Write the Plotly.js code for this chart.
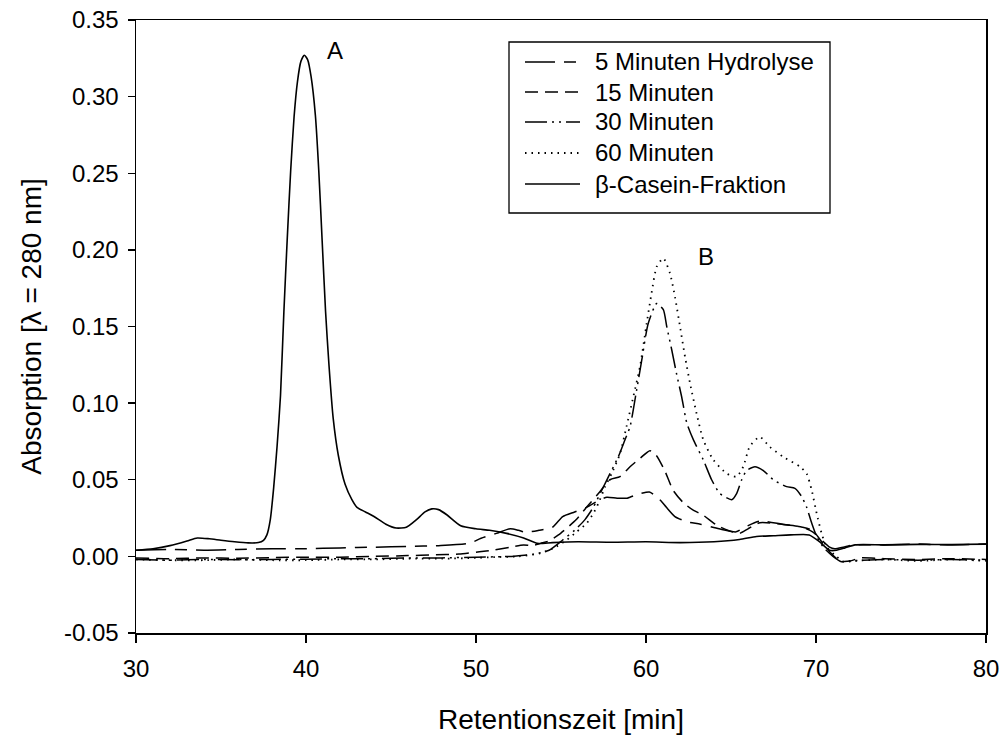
<!DOCTYPE html>
<html>
<head>
<meta charset="utf-8">
<script src="https://cdn.plot.ly/plotly-3.0.1.min.js"></script>
<style>
  html, body { margin: 0; padding: 0; background: #ffffff; }
  #chart { width: 1002px; height: 735px; }
</style>
</head>
<body>
<div id="chart"></div>
<script>
// ---- Data ----
const seriesNames = ["5 Minuten Hydrolyse", "15 Minuten", "30 Minuten", "60 Minuten", "\u03b2-Casein-Fraktion"];

const x_5min = [30, 32, 34, 36, 38, 40, 42, 44, 46, 47.8, 49.6, 50.3, 51.2, 52.0, 52.5, 52.9, 53.7, 54.5, 55.1, 55.8, 56.5, 57.3, 57.7, 58.3, 58.9, 59.5, 60.2, 60.5, 60.9, 61.2, 61.7, 62.4, 63.2, 64.3, 65.3, 65.8, 66.7, 68.0, 69.2, 69.8, 70.3, 70.8, 71.1, 71.6, 72.2, 74, 76, 78, 80];
const y_5min = [0.004, 0.0045, 0.004, 0.0045, 0.005, 0.005, 0.0055, 0.006, 0.0065, 0.007, 0.0085, 0.0118, 0.015, 0.018, 0.017, 0.0157, 0.017, 0.019, 0.026, 0.029, 0.032, 0.037, 0.0386, 0.038, 0.038, 0.0405, 0.042, 0.040, 0.036, 0.032, 0.026, 0.0226, 0.021, 0.018, 0.016, 0.019, 0.023, 0.021, 0.019, 0.016, 0.011, 0.006, 0.005, 0.006, 0.0075, 0.0075, 0.008, 0.0075, 0.008];

const x_15min = [30, 32, 34, 36, 38, 40, 42, 44, 46, 47.5, 49, 50.2, 51.0, 52.0, 52.8, 53.3, 53.8, 54.3, 54.85, 55.4, 55.9, 56.5, 57.2, 57.88, 58.47, 59.06, 59.65, 60.23, 60.6, 61.1, 61.6, 62.2, 62.8, 63.35, 64.14, 64.8, 65.5, 66.0, 66.7, 68.0, 69.2, 69.8, 70.3, 70.8, 71.4, 72.0, 72.6, 74, 76, 78, 80];
const y_15min = [-0.001, -0.0015, -0.001, -0.0012, -0.0008, -0.0005, -0.0005, 0.0, 0.0005, 0.001, 0.0015, 0.003, 0.004, 0.006, 0.0075, 0.007, 0.0085, 0.010, 0.014, 0.019, 0.024, 0.032, 0.041, 0.050, 0.052, 0.0585, 0.064, 0.069, 0.066, 0.056, 0.043, 0.035, 0.030, 0.027, 0.0205, 0.017, 0.015, 0.018, 0.022, 0.021, 0.019, 0.017, 0.010, 0.003, -0.003, -0.003, -0.001, -0.0015, -0.002, -0.0015, -0.002];

const x_30min = [30, 32, 34, 36, 38, 40, 42, 44, 46, 48, 50, 52.1, 53.4, 54.3, 55.1, 55.8, 56.41, 56.9, 57.39, 57.88, 58.37, 58.76, 59.06, 59.45, 59.75, 60.13, 60.63, 61.02, 61.22, 61.51, 61.8, 62.1, 62.4, 62.79, 63.37, 63.86, 64.35, 65.04, 65.33, 65.63, 65.92, 66.41, 66.9, 67.49, 68.27, 68.76, 69.16, 69.45, 69.75, 70.04, 70.43, 71.0, 71.5, 72, 74, 76, 78, 80];
const y_30min = [-0.002, -0.0025, -0.002, -0.0022, -0.002, -0.0018, -0.0015, -0.0015, -0.001, -0.001, -0.0005, 0.0, 0.0014, 0.004, 0.0107, 0.017, 0.024, 0.032, 0.043, 0.054, 0.065, 0.076, 0.0846, 0.1086, 0.128, 0.152, 0.165, 0.161, 0.150, 0.135, 0.119, 0.104, 0.087, 0.076, 0.063, 0.050, 0.041, 0.037, 0.041, 0.050, 0.056, 0.0585, 0.056, 0.050, 0.0455, 0.0444, 0.039, 0.032, 0.0216, 0.013, 0.006, 0.0, -0.0035, -0.003, -0.002, -0.0025, -0.002, -0.0025];

const x_60min = [30, 32, 34, 36, 38, 40, 42, 44, 46, 48, 50, 51, 52.5, 53.76, 54.55, 55.34, 55.92, 56.51, 56.9, 57.2, 57.6, 57.98, 58.47, 58.86, 59.25, 59.65, 60.04, 60.33, 60.63, 61.02, 61.41, 61.71, 62.0, 62.3, 62.59, 62.98, 63.37, 63.96, 64.75, 65.33, 65.72, 66.1, 66.69, 67.27, 68.06, 69.06, 69.45, 69.75, 70.04, 70.33, 70.63, 71.2, 71.6, 72.2, 74, 76, 78, 80];
const y_60min = [-0.002, -0.0025, -0.0025, -0.002, -0.0025, -0.0025, -0.002, -0.002, -0.0015, -0.0015, -0.001, -0.0005, 0.0, 0.002, 0.0053, 0.0107, 0.016, 0.0216, 0.028, 0.0346, 0.0455, 0.054, 0.067, 0.085, 0.104, 0.124, 0.152, 0.172, 0.189, 0.1945, 0.1847, 0.169, 0.150, 0.130, 0.113, 0.093, 0.076, 0.063, 0.054, 0.052, 0.0585, 0.0716, 0.078, 0.0716, 0.065, 0.0585, 0.054, 0.043, 0.028, 0.015, 0.006, 0.0, -0.0035, -0.003, -0.002, -0.003, -0.002, -0.003];

const x_beta = [30, 31, 32, 33, 33.6, 34.3, 35, 35.8, 36.6, 37.2, 37.5, 37.7, 37.9, 38.1, 38.3, 38.5, 38.7, 38.9, 39.1, 39.3, 39.5, 39.7, 39.9, 40.1, 40.3, 40.55, 40.75, 40.95, 41.15, 41.35, 41.6, 41.9, 42.3, 42.7, 43.0, 43.5, 44.0, 44.7, 45.3, 45.9, 46.5, 47.0, 47.4, 47.8, 48.3, 49.1, 50.0, 50.8, 51.8, 52.8, 53.6, 54.5, 56, 58, 60, 62, 64, 65.5, 66.5, 67.5, 68.5, 69.6, 70.2, 70.8, 71.2, 71.7, 72.3, 74, 76, 78, 80];
const y_beta = [0.004, 0.005, 0.007, 0.010, 0.012, 0.0115, 0.0105, 0.0095, 0.0088, 0.009, 0.0105, 0.014, 0.024, 0.045, 0.072, 0.105, 0.160, 0.208, 0.252, 0.287, 0.310, 0.323, 0.327, 0.324, 0.313, 0.288, 0.252, 0.206, 0.160, 0.125, 0.090, 0.066, 0.047, 0.037, 0.032, 0.029, 0.026, 0.021, 0.0185, 0.019, 0.024, 0.029, 0.031, 0.0305, 0.027, 0.020, 0.018, 0.017, 0.015, 0.012, 0.0085, 0.009, 0.0095, 0.0092, 0.0095, 0.009, 0.0095, 0.011, 0.013, 0.0135, 0.014, 0.014, 0.0096, 0.004, 0.004, 0.0055, 0.0075, 0.0075, 0.0078, 0.0077, 0.008];

const xTickVals = [30, 40, 50, 60, 70, 80];
const yTickVals = [-0.05, 0.00, 0.05, 0.10, 0.15, 0.20, 0.25, 0.30, 0.35];
const yTickText = ["-0.05", "0.00", "0.05", "0.10", "0.15", "0.20", "0.25", "0.30", "0.35"];

const peakLabels = ["A", "B"];
const peakLabelX = [41.7, 63.5];
const peakLabelY = [0.33, 0.196];

// ---- Styling ----
const FONT = "Liberation Sans, Arial, Helvetica, sans-serif";
const dashes = ["30px,9px,12px,9px", "13px,7px", "22px,5px,2px,5px,2px,5px", "1.5px,5px", "solid"];
const widths = [1.5, 1.5, 1.5, 1.8, 1.6];
const xs = [x_5min, x_15min, x_30min, x_60min, x_beta];
const ys = [y_5min, y_15min, y_30min, y_60min, y_beta];

const traces = seriesNames.map((name, i) => ({
  type: "scatter",
  mode: "lines",
  name: name,
  x: xs[i],
  y: ys[i],
  line: { color: "#000000", width: widths[i], dash: dashes[i], shape: "spline", smoothing: 0.6 },
  hoverinfo: "skip",
  showlegend: false
}));

// Legend box drawn in paper coordinates (layout decoration)
const plotL = 136, plotR = 986, plotT = 20, plotB = 633;
const px2x = p => (p - plotL) / (plotR - plotL);
const px2y = p => (plotB - p) / (plotB - plotT);
const legendRows = [62, 92, 122, 153, 184];

const shapes = [{
  type: "rect", xref: "paper", yref: "paper",
  x0: px2x(509), x1: px2x(830), y0: px2y(213), y1: px2y(42),
  line: { color: "#000000", width: 1.3 }, fillcolor: "#ffffff", layer: "above"
}];
const legendAnn = [];
seriesNames.forEach((name, i) => {
  shapes.push({
    type: "line", xref: "paper", yref: "paper",
    x0: px2x(525), x1: px2x(580), y0: px2y(legendRows[i]), y1: px2y(legendRows[i]),
    line: { color: "#000000", width: widths[i], dash: dashes[i] }, layer: "above"
  });
  legendAnn.push({
    xref: "paper", yref: "paper", x: px2x(593), y: px2y(legendRows[i]),
    xanchor: "left", yanchor: "middle", text: name, showarrow: false,
    font: { family: FONT, size: 24, color: "#000000" }
  });
});

const layout = {
  width: 1002,
  height: 735,
  margin: { l: plotL, r: 1002 - plotR, t: plotT, b: 735 - plotB, pad: 0 },
  paper_bgcolor: "#ffffff",
  plot_bgcolor: "#ffffff",
  font: { family: FONT, color: "#000000", size: 24 },
  showlegend: false,
  xaxis: {
    range: [30, 80],
    tickmode: "array", tickvals: xTickVals, ticktext: xTickVals.map(String),
    ticks: "outside", ticklen: 8, tickwidth: 1.3, tickcolor: "#000000",
    ticklabelstandoff: 6,
    showline: true, linecolor: "#000000", linewidth: 1.5, mirror: true,
    showgrid: false, zeroline: false,
    tickfont: { family: FONT, size: 24, color: "#000000" },
    title: { text: "Retentionszeit [min]", font: { family: FONT, size: 28, color: "#000000" }, standoff: 28 }
  },
  yaxis: {
    range: [-0.05, 0.35],
    tickmode: "array", tickvals: yTickVals, ticktext: yTickText,
    ticks: "outside", ticklen: 7, tickwidth: 1.3, tickcolor: "#000000",
    ticklabelstandoff: 4,
    showline: true, linecolor: "#000000", linewidth: 1.5, mirror: true,
    showgrid: false, zeroline: false,
    tickfont: { family: FONT, size: 24, color: "#000000" },
    title: { text: "Absorption [\u03bb = 280 nm]", font: { family: FONT, size: 28, color: "#000000" }, standoff: 14 }
  },
  shapes: shapes,
  annotations: peakLabels.map((t, i) => ({
    x: peakLabelX[i], y: peakLabelY[i], xref: "x", yref: "y",
    text: t, showarrow: false,
    font: { family: FONT, size: 24, color: "#000000" }
  })).concat(legendAnn)
};

Plotly.newPlot("chart", traces, layout, { staticPlot: true, displayModeBar: false });
</script>
</body>
</html>
